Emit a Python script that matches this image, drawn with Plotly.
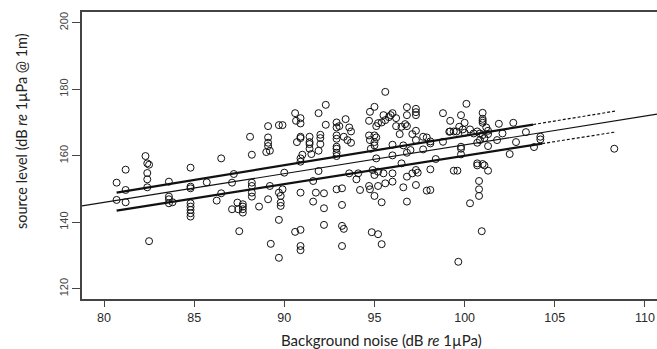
import plotly.graph_objects as go

# Scatter data: background noise (dB re 1uPa) vs source level (dB re 1uPa @ 1m)
bg_noise = [
    89.1, 89.0, 89.2, 88.2, 86.5, 82.3, 82.4, 82.5, 81.2, 82.4,
    84.8, 82.4, 80.7, 83.6, 87.2, 85.7, 87.1, 88.2, 81.2, 82.4,
    84.8, 84.8, 88.2, 89.2, 86.5, 88.2, 88.2, 80.7, 81.2, 83.6,
    83.6, 83.6, 83.8, 86.25, 84.8, 84.8, 84.8, 84.8, 84.8, 87.4,
    87.7, 87.7, 87.7, 87.7, 87.1, 87.45, 88.6, 89.1, 89.7, 89.8,
    89.7, 82.5, 87.5, 89.25, 89.7, 88.1, 89.1, 89.1, 89.7, 95.6,
    92.3, 95.0, 90.6, 91.9, 96.8, 97.3, 97.3, 97.3, 98.8, 90.9,
    90.65, 90.9, 94.75, 95.5, 95.9, 96.0, 96.8, 95.6, 95.8, 96.2,
    93.4, 92.9, 92.3, 94.7, 95.2, 95.1, 95.4, 96.2, 96.5, 96.7,
    96.8, 89.9, 92.9, 93.05, 93.6, 93.7, 97.3, 96.4, 97.1, 97.7,
    97.9, 94.7, 95.0, 95.1, 92.0, 92.0, 90.9, 90.9, 91.4, 91.4,
    92.9, 92.9, 93.3, 93.5, 93.7, 94.75, 95.0, 89.1, 90.7, 91.4,
    92.0, 97.3, 98.1, 96.0, 96.6, 92.9, 92.9, 95.0, 94.8, 91.4,
    91.9, 91.0, 91.5, 92.9, 92.9, 97.0, 97.7, 96.0, 96.8, 98.8,
    99.15, 100.1, 99.8, 101.0, 101.0, 101.0, 101.0, 99.2, 100.0, 101.9,
    102.7, 99.7, 100.3, 99.9, 101.2, 101.3, 99.2, 99.4, 99.55, 100.7,
    100.5, 100.85, 100.0, 103.4, 102.1, 101.0, 101.1, 101.3, 104.2, 104.2,
    101.8, 100.85, 100.7, 102.85, 99.8, 99.8, 101.3, 103.85, 98.1, 102.5,
    99.8, 98.4, 108.3, 98.1, 99.4, 99.6, 100.7, 100.7, 101.0, 101.1,
    101.3, 100.8, 100.8, 100.8, 100.3, 100.95, 99.65, 98.1, 90.9, 90.9,
    95.1, 90.0, 91.9, 93.6, 94.1, 94.9, 95.2, 95.0, 95.5, 96.0,
    96.5, 96.8, 97.1, 97.3, 97.4, 89.9, 89.8, 89.8, 90.9, 91.6,
    91.75, 92.2, 92.9, 93.2, 93.2, 92.2, 91.6, 94.0, 94.2, 94.7,
    94.75, 95.2, 95.6, 96.0, 95.0, 95.4, 96.6, 97.3, 97.9, 96.8,
    90.6, 90.9, 92.2, 93.2, 93.3, 94.85, 95.2, 90.9, 90.9, 93.2,
    95.4,
]
source_level = [
    163.9, 161.1, 161.5, 160.3, 159.2, 159.9, 157.7, 157.3, 155.8, 154.8,
    156.4, 152.9, 151.9, 152.2, 154.5, 152.0, 151.9, 151.9, 149.7, 150.5,
    150.7, 150.2, 150.9, 150.9, 148.7, 148.9, 147.7, 146.7, 146.0, 147.7,
    146.9, 145.7, 146.0, 146.5, 145.7, 144.7, 143.7, 142.7, 141.7, 145.9,
    145.4, 144.7, 143.9, 142.9, 143.9, 143.9, 144.7, 146.9, 148.9, 145.9,
    140.7, 134.3, 137.3, 133.5, 129.3, 165.7, 168.9, 165.5, 169.2, 179.2,
    175.3, 174.7, 172.8, 172.8, 174.6, 174.1, 173.1, 172.2, 172.8, 171.3,
    170.5, 169.7, 173.2, 172.2, 172.2, 172.8, 172.2, 170.7, 171.6, 171.3,
    171.0, 170.0, 169.3, 170.5, 169.8, 168.9, 170.0, 168.9, 168.7, 169.5,
    168.9, 169.2, 168.5, 168.9, 168.5, 167.3, 167.5, 166.5, 166.5, 165.7,
    165.5, 166.1, 166.1, 165.5, 166.3, 165.3, 165.7, 165.3, 165.7, 164.1,
    166.1, 165.1, 165.7, 164.7, 163.9, 164.7, 164.1, 162.9, 164.1, 163.5,
    163.5, 164.7, 164.3, 163.3, 163.1, 162.7, 162.1, 163.1, 162.1, 162.1,
    161.5, 160.3, 160.5, 159.9, 160.9, 161.7, 161.9, 160.1, 160.9, 164.2,
    167.2, 175.6, 172.2, 172.9, 171.1, 170.5, 169.9, 170.5, 169.9, 169.6,
    169.9, 168.7, 167.9, 167.9, 168.5, 167.5, 167.3, 167.3, 167.3, 167.3,
    166.7, 166.7, 166.9, 167.1, 166.7, 166.2, 165.3, 166.5, 165.7, 164.9,
    164.7, 164.7, 163.9, 164.1, 162.7, 162.1, 162.9, 162.6, 163.7, 160.5,
    160.4, 159.0, 162.1, 155.9, 155.5, 155.5, 157.7, 157.1, 157.5, 157.1,
    155.5, 152.4, 149.9, 147.9, 145.7, 137.3, 128.1, 149.7, 159.2, 158.2,
    159.2, 154.9, 155.4, 154.7, 154.7, 155.7, 155.2, 154.2, 154.7, 154.7,
    157.7, 153.7, 154.7, 155.7, 154.9, 149.9, 147.9, 144.9, 148.9, 146.2,
    148.9, 148.7, 149.9, 150.2, 145.2, 144.2, 152.4, 152.9, 149.7, 150.9,
    149.9, 150.9, 151.7, 152.2, 147.9, 146.0, 150.5, 151.2, 149.5, 146.2,
    137.1, 137.7, 139.2, 138.9, 138.0, 137.0, 136.4, 132.85, 131.6, 132.85,
    133.4,
]

# Regression line (full width) and confidence limits
fit_x = [78.78, 110.67]
fit_y = [144.9, 172.5]
upper_x_solid = [80.7, 103.8]
upper_y_solid = [148.9, 169.38]
upper_x_dash = [103.8, 108.34]
upper_y_dash = [169.38, 173.4]
lower_x_solid = [80.7, 104.3]
lower_y_solid = [143.5, 163.65]
lower_x_dash = [104.3, 108.34]
lower_y_dash = [163.65, 167.1]

x_ticks = [80, 85, 90, 95, 100, 105, 110]
y_ticks = [120, 140, 160, 180, 200]

fig = go.Figure()
fig.add_trace(go.Scatter(
    x=bg_noise, y=source_level, mode="markers",
    marker=dict(symbol="circle-open", size=7, color="#111111",
                line=dict(width=1, color="#111111")),
    showlegend=False, hoverinfo="skip"))

for xs, ys, w, dash in [
    (fit_x, fit_y, 1.1, "solid"),
    (upper_x_solid, upper_y_solid, 2.3, "solid"),
    (lower_x_solid, lower_y_solid, 2.3, "solid"),
    (upper_x_dash, upper_y_dash, 1.2, "3px,2px"),
    (lower_x_dash, lower_y_dash, 1.2, "3px,2px"),
]:
    fig.add_trace(go.Scatter(x=xs, y=ys, mode="lines",
                             line=dict(color="#111111", width=w, dash=dash),
                             showlegend=False, hoverinfo="skip"))

# Figure slightly wider than the window so the box runs off the right edge as in the reference.
fig.update_layout(
    width=665, height=349,
    margin=dict(l=82, r=8, t=12, b=50),
    paper_bgcolor="white", plot_bgcolor="white",
    font=dict(family="Liberation Sans, Arial, sans-serif", color="#333333"),
    xaxis=dict(range=[78.78, 110.67], tickvals=x_ticks,
               ticktext=[str(v) for v in x_ticks],
               showgrid=False, zeroline=False,
               showline=True, mirror=True, linecolor="#444444", linewidth=1.5,
               ticks="outside", ticklen=6, tickcolor="#444444", tickwidth=1.2,
               tickfont=dict(size=12.5, color="#2a2a2a")),
    yaxis=dict(range=[116.91, 203.22], tickvals=y_ticks,
               ticktext=[str(v) for v in y_ticks],
               showgrid=False, zeroline=False,
               showline=True, mirror=False, linecolor="#444444", linewidth=1.5,
               ticks="outside", ticklen=8, tickcolor="#444444", tickwidth=1.2,
               tickangle=-90,
               tickfont=dict(size=11, color="#444444", family="Liberation Sans Narrow, Liberation Sans, sans-serif")),
    annotations=[
        dict(text="Background noise (dB <i>re</i> 1µPa)", xref="paper", yref="paper",
             x=(381 - 82) / 575, y=-(340 - 299) / 287, xanchor="center", yanchor="middle",
             showarrow=False, font=dict(family="Lato, sans-serif", size=15, color="#222222")),
        dict(text="source level (dB <i>re</i> 1µPa @ 1m)", xref="paper", yref="paper",
             x=-(82 - 21) / 575, y=(299 - 131) / 287, xanchor="center", yanchor="middle",
             textangle=-90, showarrow=False,
             font=dict(family="Lato, sans-serif", size=14.5, color="#222222")),
    ],
)

fig.write_html(
    "out.html",
    config={"displayModeBar": False},
    post_script=("document.documentElement.style.overflow='hidden';"
                 "document.body.style.margin='0';"
                 "document.body.style.overflow='hidden';"),
)
